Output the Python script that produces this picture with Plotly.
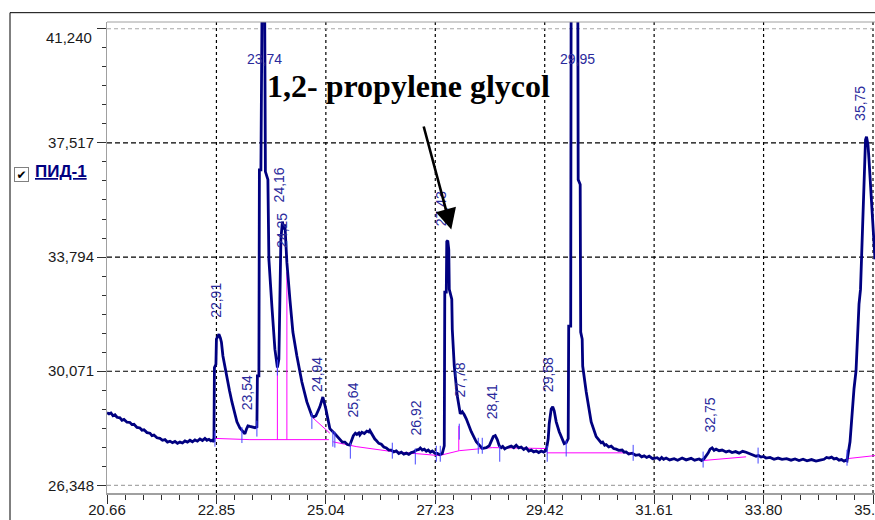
import plotly.graph_objects as go

# ---------------- data ----------------
time = [20.66, 20.70, 20.74, 20.78, 20.82, 20.86, 20.92, 20.96, 21.00, 21.06, 21.12, 21.16, 21.20, 21.26,
        21.32, 21.36, 21.40, 21.46, 21.52, 21.56, 21.60, 21.66, 21.72, 21.77, 21.82, 21.87, 21.92, 21.97,
        22.02, 22.07, 22.12, 22.17, 22.22, 22.27, 22.32, 22.37, 22.42, 22.47, 22.52, 22.57, 22.62, 22.66,
        22.70, 22.74, 22.78, 22.80,
        22.81, 22.84, 22.85, 22.90, 22.93, 22.95, 22.98, 23.02, 23.06, 23.11, 23.16, 23.21, 23.26, 23.32,
        23.38, 23.42, 23.45, 23.48, 23.52, 23.56, 23.62, 23.66, 23.67, 23.70, 23.71, 23.74, 23.75, 23.78,
        23.81, 23.83, 23.88, 23.90, 23.96, 24.02, 24.07, 24.10, 24.12, 24.14, 24.17, 24.20, 24.22, 24.24,
        24.26, 24.32, 24.38, 24.46, 24.56, 24.66, 24.76, 24.80, 24.84, 24.92, 24.98, 25.04, 25.12, 25.22,
        25.32, 25.37, 25.42, 25.47, 25.52, 25.55, 25.59, 25.63, 25.66, 25.70, 25.72, 25.76, 25.81, 25.86,
        25.90, 25.92, 25.95, 25.98, 26.02, 26.05, 26.10, 26.15, 26.20, 26.25, 26.30, 26.35, 26.40, 26.45,
        26.50, 26.55, 26.60, 26.65, 26.70, 26.75, 26.80, 26.85, 26.90, 26.93, 26.97, 27.01, 27.05, 27.09,
        27.13, 27.17, 27.22, 27.27, 27.32, 27.37,
        27.41, 27.42, 27.45, 27.46, 27.48, 27.50, 27.51, 27.56, 27.57, 27.61, 27.67, 27.73, 27.77, 27.81,
        27.85, 27.95, 28.05, 28.17, 28.25, 28.31, 28.39, 28.43, 28.47,
        28.51, 28.55, 28.58, 28.62, 28.65, 28.70, 28.75, 28.80, 28.85, 28.90, 28.95, 29.00, 29.05, 29.10,
        29.15, 29.20, 29.25, 29.30, 29.35, 29.40, 29.45,
        29.49, 29.51, 29.55, 29.58, 29.61, 29.65, 29.71, 29.77, 29.81, 29.85, 29.89, 29.90, 29.94, 29.95,
        29.99, 30.08, 30.09, 30.13, 30.14, 30.17, 30.18, 30.25, 30.35, 30.45,
        30.51, 30.55, 30.58, 30.62, 30.65, 30.70, 30.75, 30.80, 30.85, 30.90, 30.97, 31.01, 31.05, 31.10,
        31.17, 31.24, 31.31, 31.36, 31.41, 31.46, 31.51, 31.58, 31.67, 31.72, 31.76, 31.80, 31.85, 31.92,
        32.01, 32.08, 32.17, 32.25, 32.35, 32.42, 32.51, 32.56, 32.61,
        32.65, 32.69, 32.73, 32.77, 32.81, 32.85, 32.91, 32.97, 33.05, 33.11, 33.17, 33.24, 33.31, 33.38,
        33.45, 33.50, 33.55, 33.60, 33.65, 33.70, 33.75, 33.80, 33.85, 33.93, 34.01, 34.09, 34.17, 34.26,
        34.35, 34.43, 34.51, 34.59, 34.67, 34.76, 34.85, 34.93, 35.01, 35.06, 35.11, 35.16, 35.21, 35.26,
        35.31, 35.36, 35.41, 35.45, 35.47,
        35.53, 35.56, 35.61, 35.65, 35.69, 35.71, 35.74, 35.76, 35.79, 35.81, 35.84, 35.86, 35.89, 35.91,
        35.94, 35.97, 35.99, 36.03]
signal = [28.72, 28.68, 28.71, 28.62, 28.65, 28.57, 28.55, 28.47, 28.50, 28.41, 28.40, 28.33, 28.34, 28.24,
          28.22, 28.15, 28.16, 28.07, 28.05, 27.97, 27.99, 27.90, 27.88, 27.82, 27.84, 27.76, 27.79, 27.74,
          27.78, 27.72, 27.76, 27.73, 27.80, 27.76, 27.82, 27.77, 27.83, 27.79, 27.86, 27.81, 27.88, 27.82,
          27.85, 27.80, 27.83, 27.76,
          30.19, 30.30, 31.12, 31.28, 31.15, 31.02, 30.57, 30.20, 29.92, 29.45, 29.07, 28.70, 28.42, 28.22,
          28.10, 28.03, 28.18, 28.29, 28.27, 28.26, 28.23, 28.26, 29.92, 29.92, 36.64, 36.64, 44.00, 46.00,
          44.00, 36.58, 36.32, 33.72, 32.19, 30.79, 30.19, 30.47, 32.42, 34.37, 34.95, 34.69, 34.86, 34.20,
          33.62, 32.42, 31.35, 30.57, 29.72, 29.07, 28.62, 28.58, 28.62, 28.91, 29.23, 28.84, 28.20, 28.03,
          27.84, 27.76, 27.76, 27.68, 27.66, 27.80, 27.97, 28.05, 28.01, 28.06, 27.99, 28.08, 28.04, 28.12,
          28.09, 28.14, 28.05, 27.97, 27.86, 27.81, 27.72, 27.69, 27.60, 27.57, 27.50, 27.50, 27.44, 27.47,
          27.39, 27.43, 27.37, 27.40, 27.36, 27.42, 27.44, 27.50, 27.52, 27.57, 27.50, 27.53, 27.46, 27.50,
          27.43, 27.47, 27.40, 27.39, 27.35, 27.39,
          27.64, 32.65, 32.65, 34.30, 34.33, 34.04, 32.74, 32.42, 31.44, 30.24, 29.27, 28.68, 28.75, 28.65,
          28.52, 28.10, 27.77, 27.55, 27.58, 27.64, 27.94, 27.97, 27.84,
          27.64, 27.58, 27.62, 27.54, 27.57, 27.60, 27.63, 27.58, 27.66, 27.57, 27.60, 27.52, 27.57, 27.47,
          27.50, 27.44, 27.47, 27.42, 27.47, 27.43, 27.49,
          27.87, 28.36, 28.84, 28.91, 28.78, 28.42, 28.10, 27.84, 27.71, 27.74, 27.87, 31.54, 31.54, 44.00,
          46.00, 44.00, 36.32, 36.16, 31.35, 31.12, 30.24, 29.40, 28.42, 27.94,
          27.80, 27.74, 27.76, 27.66, 27.68, 27.60, 27.63, 27.55, 27.53, 27.49, 27.50, 27.43, 27.44, 27.37,
          27.40, 27.33, 27.35, 27.28, 27.31, 27.26, 27.30, 27.22, 27.25, 27.19, 27.26, 27.20, 27.24, 27.18,
          27.22, 27.17, 27.24, 27.18, 27.23, 27.17, 27.21, 27.16, 27.22,
          27.30, 27.40, 27.53, 27.57, 27.49, 27.53, 27.48, 27.50, 27.44, 27.47, 27.42, 27.45, 27.40, 27.46,
          27.43, 27.40, 27.36, 27.34, 27.30, 27.32, 27.27, 27.29, 27.24, 27.26, 27.20, 27.24, 27.20, 27.22,
          27.17, 27.21, 27.16, 27.20, 27.15, 27.19, 27.14, 27.17, 27.20, 27.26, 27.24, 27.27, 27.21, 27.23,
          27.17, 27.19, 27.14, 27.17, 27.15,
          27.77, 28.52, 29.50, 30.08, 31.44, 32.26, 32.74, 33.82, 34.69, 36.22, 37.62, 37.72, 37.45, 36.97,
          36.16, 35.25, 34.53, 33.72]

# integration baseline (segments separated by None)
baseline_time = [22.82, 23.52, 25.10, None, 24.78, 25.12, None, 25.18, 25.66, 26.37, 27.31, 27.71, 28.37, 29.47,
                 None, 29.46, 31.17, None, 32.59, 33.45, None, 35.47, 36.03]
baseline_level = [27.88, 27.84, 27.84, None, 28.55, 28.05, None, 27.77, 27.61, 27.45, 27.32, 27.48, 27.58, 27.55,
                  None, 27.41, 27.41, None, 27.16, 27.28, None, 27.22, 27.32]

# peak separation drop lines
drop_time = [24.07, 24.26, 27.70]
drop_top = [30.19, 33.30, 28.29]
drop_bottom = [27.84, 27.84, 27.48]

# peak start / end marks
mark_time = [22.82, 23.36, 23.66, 24.07, 24.76, 25.18, 25.22, 25.53, 26.37, 26.83, 27.25, 27.33, 27.71,
             28.09, 28.17, 28.52, 29.47, 29.85, 31.19, 32.59, 33.69, 35.47]
mark_level = [27.87, 27.99, 28.20, 30.19, 28.45, 27.87, 27.84, 27.48, 27.48, 27.29, 27.38, 27.38, 28.10,
              27.64, 27.64, 27.38, 27.38, 27.55, 27.41, 27.19, 27.32, 27.25]

# retention-time labels (rotated)
peak_labels = ["22,91", "23,54", "24,16", "24,25", "24,94", "25,64", "26,92", "27,43", "27,78", "28,41",
               "29,58", "32,75", "35,75"]
peak_label_time = [22.85, 23.48, 24.10, 24.15, 24.86, 25.58, 26.85, 27.35, 27.73, 28.37, 29.49, 32.73, 35.73]
peak_label_level = [32.38, 29.38, 36.16, 34.66, 29.98, 29.14, 28.54, 35.36, 29.78, 29.07, 29.95, 28.63, 38.79]

# labels of off-scale peaks (horizontal)
top_labels = ["23,74", "29,95"]
top_label_time = [23.82, 30.07]
top_label_level = [40.25, 40.25]

x_ticks = [20.66, 22.85, 25.04, 27.23, 29.42, 31.61, 33.80, 35.99]
x_tick_text = ["20.66", "22.85", "25.04", "27.23", "29.42", "31.61", "33.80", "35.99"]
y_ticks = [26.348, 30.071, 33.794, 37.517, 41.240]
y_tick_text = ["26,348", "30,071", "33,794", "37,517", "41,240"]

compound_name = "1,2- propylene glycol"
compound_arrow_tip = (27.55, 34.69)
compound_arrow_tail = (26.99, 38.10)
compound_text_pos = (23.82, 39.36)
channel_name = "ПИД-1"

X_RANGE = [20.66, 36.03]
Y_RANGE = [26.10, 41.46]

# ---------------- figure ----------------
NAVY = "#000080"
MAGENTA = "#ff00ff"
MARK_BLUE = "#4646ff"
LABEL_BLUE = "#2a2a9c"
TICK_FONT = dict(family="Liberation Sans, Arial", size=15, color="#1a1a1a")

fig = go.Figure()

fig.add_trace(go.Scatter(x=baseline_time, y=baseline_level, mode="lines",
                         line=dict(color=MAGENTA, width=1), hoverinfo="skip", showlegend=False))

dx, dy = [], []
for t, a, b in zip(drop_time, drop_top, drop_bottom):
    dx += [t, t, None]
    dy += [a, b, None]
fig.add_trace(go.Scatter(x=dx, y=dy, mode="lines", line=dict(color=MAGENTA, width=1),
                         hoverinfo="skip", showlegend=False))

fig.add_trace(go.Scatter(x=time, y=signal, mode="lines", line=dict(color=NAVY, width=2.8),
                         showlegend=False))

MARK_HALF = 0.26
mx, my = [], []
for t, v in zip(mark_time, mark_level):
    mx += [t, t, None]
    my += [v - MARK_HALF, v + MARK_HALF, None]
fig.add_trace(go.Scatter(x=mx, y=my, mode="lines", line=dict(color=MARK_BLUE, width=1),
                         hoverinfo="skip", showlegend=False))

# grid lines
shapes = []
for xv in x_ticks[1:]:
    shapes.append(dict(type="line", xref="x", yref="paper", x0=xv, x1=xv, y0=0, y1=1,
                       line=dict(color="black", width=1.2, dash="3px,3px"), layer="below"))
for i, yv in enumerate(y_ticks):
    edge = i == 0 or i == len(y_ticks) - 1
    shapes.append(dict(type="line", xref="paper", yref="y", x0=0, x1=1, y0=yv, y1=yv,
                       line=dict(color="#a8a8a8" if edge else "black", width=1.2,
                                 dash="4px,3px" if edge else "5px,3px"), layer="below"))
# plot frame top line and outer window frame
shapes.append(dict(type="line", xref="paper", yref="paper", x0=0, x1=1, y0=1, y1=1,
                   line=dict(color="#a0a0a0", width=1)))
shapes.append(dict(type="line", xref="paper", yref="paper", x0=-0.1263, x1=1.01, y0=1.0198, y1=1.0198,
                   line=dict(color="black", width=1)))
shapes.append(dict(type="line", xref="paper", yref="paper", x0=-0.1263, x1=-0.1263, y0=1.0198, y1=-0.06,
                   line=dict(color="black", width=1)))

annotations = []
for txt, t, v in zip(peak_labels, peak_label_time, peak_label_level):
    annotations.append(dict(x=t, y=v, xref="x", yref="y", text=txt, showarrow=False, textangle=-90,
                            xanchor="center", yanchor="middle",
                            font=dict(family="Liberation Sans, Arial", size=14, color=LABEL_BLUE)))
for txt, t, v in zip(top_labels, top_label_time, top_label_level):
    annotations.append(dict(x=t, y=v, xref="x", yref="y", text=txt, showarrow=False,
                            xanchor="center", yanchor="middle",
                            font=dict(family="Liberation Sans, Arial", size=14, color=LABEL_BLUE)))

annotations.append(dict(x=compound_text_pos[0], y=compound_text_pos[1], xref="x", yref="y",
                        text="<b>" + compound_name + "</b>", showarrow=False, xanchor="left",
                        yanchor="middle",
                        font=dict(family="Liberation Serif, Times New Roman", size=32, color="black")))
annotations.append(dict(x=compound_arrow_tip[0], y=compound_arrow_tip[1], xref="x", yref="y",
                        ax=compound_arrow_tail[0], ay=compound_arrow_tail[1], axref="x", ayref="y",
                        text="", showarrow=True, arrowhead=2, arrowsize=1.6, arrowwidth=2.6,
                        arrowcolor="black"))

# top y tick label sits slightly below its tick (kept inside the frame)
annotations.append(dict(x=-0.017, y=0.968, xref="paper", yref="paper", text=y_tick_text[-1],
                        showarrow=False, xanchor="right", yanchor="middle", font=TICK_FONT))
y_tick_text_axis = y_tick_text[:-1] + [""]

# channel legend (checkbox + name)
annotations.append(dict(x=-0.1107, y=0.677, xref="paper", yref="paper", text="✔", showarrow=False,
                        xanchor="center", yanchor="middle", width=13, height=13,
                        bordercolor="#808080", borderwidth=1, borderpad=0, bgcolor="white",
                        font=dict(family="DejaVu Sans", size=12, color="black")))
annotations.append(dict(x=-0.0964, y=0.683, xref="paper", yref="paper",
                        text="<b><u>" + channel_name + "</u></b>", showarrow=False,
                        xanchor="left", yanchor="middle",
                        font=dict(family="Liberation Sans, Arial", size=17, color=NAVY)))

fig.update_layout(
    width=875, height=520, autosize=False,
    margin=dict(l=107, r=0, t=22, b=27, pad=0),
    paper_bgcolor="white", plot_bgcolor="white",
    showlegend=False,
    shapes=shapes, annotations=annotations,
    xaxis=dict(range=X_RANGE, tickmode="array", tickvals=x_ticks, ticktext=x_tick_text,
               automargin=False, ticklabelstandoff=-7, ticklabeloverflow="allow",
               showgrid=False, zeroline=False, showline=True, linecolor="#a0a0a0", linewidth=2,
               ticks="outside", ticklen=9, tickwidth=1, tickcolor="#303030",
               tickfont=TICK_FONT,
               minor=dict(tickmode="linear", tick0=x_ticks[0], dtick=(x_ticks[1] - x_ticks[0]) / 6,
                          ticks="outside", ticklen=5, tickwidth=1, tickcolor="#303030", showgrid=False)),
    yaxis=dict(range=Y_RANGE, tickmode="array", tickvals=y_ticks, ticktext=y_tick_text_axis,
               automargin=False,
               showgrid=False, zeroline=False, showline=True, linecolor="#a0a0a0", linewidth=1,
               ticks="outside", ticklen=9, tickwidth=1, tickcolor="#303030",
               tickfont=TICK_FONT,
               minor=dict(tickmode="linear", tick0=y_ticks[0], dtick=(y_ticks[1] - y_ticks[0]) / 6,
                          ticks="outside", ticklen=4, tickwidth=1, tickcolor="#303030", showgrid=False)),
)

fig.write_html("out.html")
